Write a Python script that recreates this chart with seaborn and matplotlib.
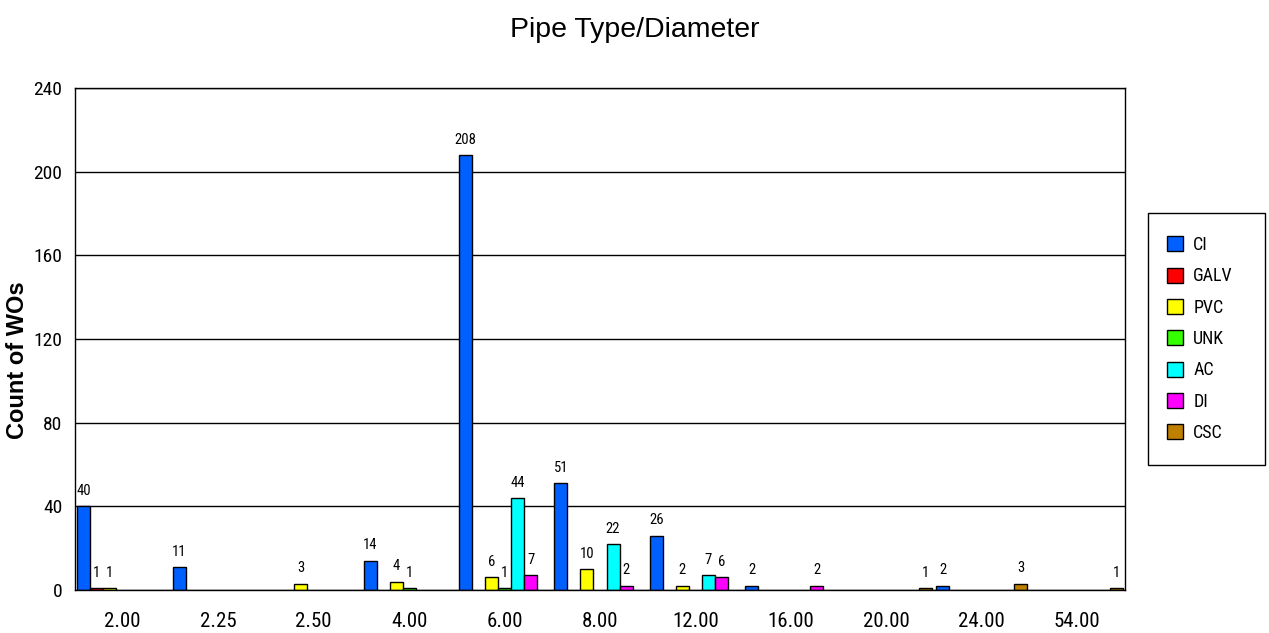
import matplotlib
matplotlib.use("Agg")
import matplotlib.pyplot as plt
from matplotlib.patches import Rectangle, Patch
import pandas as pd
import seaborn as sns

categories = ["2.00", "2.25", "2.50", "4.00", "6.00", "8.00", "12.00", "16.00", "20.00", "24.00", "54.00"]
series = ["CI", "GALV", "PVC", "UNK", "AC", "DI", "CSC"]
ci = [40, 11, 0, 14, 208, 51, 26, 2, 0, 2, 0]
galv = [1, 0, 0, 0, 0, 0, 0, 0, 0, 0, 0]
pvc = [1, 0, 3, 4, 6, 10, 2, 0, 0, 0, 0]
unk = [0, 0, 0, 1, 1, 0, 0, 0, 0, 0, 0]
ac = [0, 0, 0, 0, 44, 22, 7, 0, 0, 0, 0]
di = [0, 0, 0, 0, 7, 2, 6, 2, 0, 0, 0]
csc = [0, 0, 0, 0, 0, 0, 0, 0, 1, 3, 1]
colors = ["#0060FF", "#FF0000", "#FFFF00", "#33FF00", "#00FFFF", "#FF00FF", "#BF8000"]
yticks = [0, 40, 80, 120, 160, 200, 240]

values = [ci, galv, pvc, unk, ac, di, csc]
rows = []
for s, vals in zip(series, values):
    for c, v in zip(categories, vals):
        rows.append({"Diameter": c, "Type": s, "Count": v})
df = pd.DataFrame(rows)

sns.set_theme(style="white")
narrow = ["Roboto Condensed", "Liberation Sans Narrow", "Liberation Sans", "DejaVu Sans"]
plt.rcParams["font.family"] = narrow
for k in ["text.color", "axes.labelcolor", "xtick.color", "ytick.color"]:
    plt.rcParams[k] = "black"

fig = plt.figure(figsize=(12.69, 6.33), dpi=100)
ax = fig.add_axes([75 / 1269, 1 - 590 / 633, 1050 / 1269, 502 / 633])

sns.barplot(data=df, x="Diameter", y="Count", hue="Type", order=categories,
            hue_order=series, palette=colors, width=0.955, dodge=True,
            edgecolor="black", linewidth=1.0, saturation=1, ax=ax, legend=False)

for cont, vals in zip(ax.containers, values):
    for p, v in zip(cont.patches, vals):
        if v == 0:
            p.set_visible(False)
    labels = [str(v) if v > 0 else "" for v in vals]
    ax.bar_label(cont, labels=labels, padding=6, fontsize=10.5, color="black")

ax.set_xlim(-0.5, len(categories) - 0.5)
ax.set_ylim(0, 240)
ax.set_yticks(yticks)
ax.yaxis.grid(True, color="black", linewidth=1.0)
ax.set_axisbelow(True)
for sp in ax.spines.values():
    sp.set_color("black")
    sp.set_linewidth(1.0)
    sp.set_visible(True)
ax.tick_params(axis="x", length=0, pad=16, labelsize=15)
ax.tick_params(axis="y", length=0, pad=9, labelsize=14)
ax.set_xlabel("")
ax.set_ylabel("Count of WOs", fontsize=17, fontweight="bold",
              family=["Liberation Sans", "DejaVu Sans"], va="center")
ax.yaxis.set_label_coords((18 - 75) / 1050, (590 - 360) / 502)

fig.suptitle("Pipe Type/Diameter", x=0.5, y=1 - 30 / 633, va="center", fontsize=20.5,
             family=["Liberation Sans", "DejaVu Sans"])

# legend frame
fig.patches.append(Rectangle((1148 / 1269, 1 - 465 / 633), 117 / 1269, 252 / 633,
                             transform=fig.transFigure, facecolor="white",
                             edgecolor="black", linewidth=1.0))
handles = [Patch(facecolor=c, edgecolor="black", linewidth=1.0) for c in colors]
fig.legend(handles, series, loc="upper left",
           bbox_to_anchor=(1167 / 1269, 1 - 236 / 633), frameon=False,
           fontsize=13, handlelength=0.9, handleheight=0.9, handletextpad=0.55,
           labelspacing=0.74, borderpad=0, borderaxespad=0)

fig.savefig("out.png", dpi=100)
